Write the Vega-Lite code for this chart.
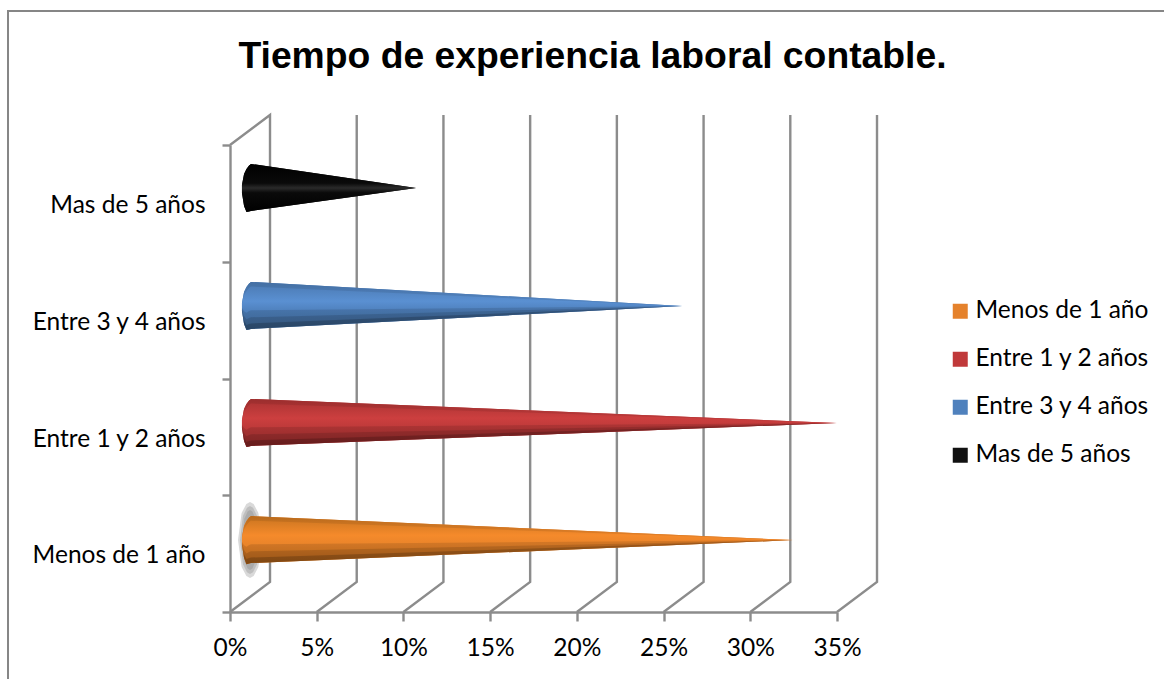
{
"$schema":"https://vega.github.io/schema/vega-lite/v6.json",
"autosize":{"type":"none"},
"padding":{"left":230,"top":145,"right":327,"bottom":67},
"width":607,"height":467,
"background":"white",
"config":{"view":{"stroke":null},"font":"Lato"},
"title":{"text":"Tiempo de experiencia laboral contable.","font":"Liberation Sans","fontSize":37.3,"fontWeight":"bold","color":"#000000","anchor":"middle","dx":59,"offset":-69},
"datasets":{
"conos":[
{"serie":"Menos de 1 año","x":0.69,"lo":0.573,"hi":0.642,"m1":0.581,"m2":0.590,"m3":0.601,"t1":0.635},
{"serie":"Menos de 1 año","x":0.81,"lo":0.462,"hi":0.736,"m1":0.495,"m2":0.531,"m3":0.572,"t1":0.709},
{"serie":"Menos de 1 año","x":0.95,"lo":0.410,"hi":0.779,"m1":0.454,"m2":0.502,"m3":0.558,"t1":0.742},
{"serie":"Menos de 1 año","x":1.10,"lo":0.415,"hi":0.809,"m1":0.462,"m2":0.514,"m3":0.573,"t1":0.770},
{"serie":"Menos de 1 año","x":1.21,"lo":0.419,"hi":0.822,"m1":0.467,"m2":0.520,"m3":0.580,"t1":0.782},
{"serie":"Menos de 1 año","x":32.46,"lo":0.616,"hi":0.616,"m1":0.616,"m2":0.616,"m3":0.616,"t1":0.616},
{"serie":"Entre 1 y 2 años","x":0.69,"lo":1.576,"hi":1.645,"m1":1.584,"m2":1.593,"m3":1.604,"t1":1.638},
{"serie":"Entre 1 y 2 años","x":0.81,"lo":1.465,"hi":1.739,"m1":1.498,"m2":1.534,"m3":1.575,"t1":1.712},
{"serie":"Entre 1 y 2 años","x":0.95,"lo":1.413,"hi":1.782,"m1":1.457,"m2":1.505,"m3":1.561,"t1":1.745},
{"serie":"Entre 1 y 2 años","x":1.10,"lo":1.418,"hi":1.812,"m1":1.465,"m2":1.517,"m3":1.576,"t1":1.773},
{"serie":"Entre 1 y 2 años","x":1.21,"lo":1.422,"hi":1.825,"m1":1.470,"m2":1.523,"m3":1.583,"t1":1.785},
{"serie":"Entre 1 y 2 años","x":34.99,"lo":1.619,"hi":1.619,"m1":1.619,"m2":1.619,"m3":1.619,"t1":1.619},
{"serie":"Entre 3 y 4 años","x":0.69,"lo":2.578,"hi":2.647,"m1":2.586,"m2":2.595,"m3":2.606,"t1":2.640},
{"serie":"Entre 3 y 4 años","x":0.81,"lo":2.467,"hi":2.741,"m1":2.500,"m2":2.536,"m3":2.577,"t1":2.714},
{"serie":"Entre 3 y 4 años","x":0.95,"lo":2.415,"hi":2.784,"m1":2.459,"m2":2.507,"m3":2.563,"t1":2.747},
{"serie":"Entre 3 y 4 años","x":1.10,"lo":2.420,"hi":2.814,"m1":2.467,"m2":2.519,"m3":2.578,"t1":2.775},
{"serie":"Entre 3 y 4 años","x":1.21,"lo":2.424,"hi":2.827,"m1":2.472,"m2":2.525,"m3":2.585,"t1":2.787},
{"serie":"Entre 3 y 4 años","x":26.08,"lo":2.621,"hi":2.621,"m1":2.621,"m2":2.621,"m3":2.621,"t1":2.621},
{"serie":"Mas de 5 años","x":0.69,"lo":3.589,"hi":3.658},{"serie":"Mas de 5 años","x":0.81,"lo":3.478,"hi":3.752},{"serie":"Mas de 5 años","x":0.95,"lo":3.426,"hi":3.795},{"serie":"Mas de 5 años","x":1.10,"lo":3.431,"hi":3.825},{"serie":"Mas de 5 años","x":1.21,"lo":3.435,"hi":3.838},{"serie":"Mas de 5 años","x":10.73,"lo":3.632,"hi":3.632}
],
"paredes":[
{"k":0,"x":0,"y":4},{"k":0,"x":2.307,"y":4.257},{"k":0,"x":2.307,"y":0.257},{"k":0,"x":0,"y":0},
{"k":5,"x":7.307,"y":4.257},{"k":5,"x":7.307,"y":0.257},{"k":5,"x":5,"y":0},
{"k":10,"x":12.307,"y":4.257},{"k":10,"x":12.307,"y":0.257},{"k":10,"x":10,"y":0},
{"k":15,"x":17.307,"y":4.257},{"k":15,"x":17.307,"y":0.257},{"k":15,"x":15,"y":0},
{"k":20,"x":22.307,"y":4.257},{"k":20,"x":22.307,"y":0.257},{"k":20,"x":20,"y":0},
{"k":25,"x":27.307,"y":4.257},{"k":25,"x":27.307,"y":0.257},{"k":25,"x":25,"y":0},
{"k":30,"x":32.307,"y":4.257},{"k":30,"x":32.307,"y":0.257},{"k":30,"x":30,"y":0},
{"k":35,"x":37.307,"y":4.257},{"k":35,"x":37.307,"y":0.257},{"k":35,"x":35,"y":0}
],
"marco":[{"x":-12.8,"y":-0.6},{"x":-12.8,"y":5.148},{"x":53.9,"y":5.148}],
"sombra":[
{"e":"A","x":0.461,"lo":0.617,"hi":0.617},{"e":"A","x":0.669,"lo":0.386,"hi":0.848},{"e":"A","x":0.945,"lo":0.308,"hi":0.926},{"e":"A","x":1.153,"lo":0.292,"hi":0.942},{"e":"A","x":1.361,"lo":0.308,"hi":0.926},{"e":"A","x":1.637,"lo":0.386,"hi":0.848},{"e":"A","x":1.845,"lo":0.617,"hi":0.617},
{"e":"B","x":0.576,"lo":0.617,"hi":0.617},{"e":"B","x":0.749,"lo":0.410,"hi":0.824},{"e":"B","x":0.980,"lo":0.341,"hi":0.893},{"e":"B","x":1.153,"lo":0.326,"hi":0.908},{"e":"B","x":1.326,"lo":0.341,"hi":0.893},{"e":"B","x":1.557,"lo":0.410,"hi":0.824},{"e":"B","x":1.730,"lo":0.617,"hi":0.617},
{"e":"C","x":0.692,"lo":0.617,"hi":0.617},{"e":"C","x":0.830,"lo":0.435,"hi":0.799},{"e":"C","x":1.015,"lo":0.373,"hi":0.861},{"e":"C","x":1.153,"lo":0.360,"hi":0.874},{"e":"C","x":1.291,"lo":0.373,"hi":0.861},{"e":"C","x":1.476,"lo":0.435,"hi":0.799},{"e":"C","x":1.614,"lo":0.617,"hi":0.617}
]
},
"layer":[
{"data":{"name":"marco"},"mark":{"type":"line","color":"#868686","strokeWidth":2,"clip":false},
 "encoding":{"x":{"field":"x","type":"quantitative","sort":null,"scale":{"domain":[0,35],"nice":false,"zero":false},
   "axis":{"values":[0,5,10,15,20,25,30,35],"labelExpr":"datum.value+'%'","labelFlush":false,"labelOverlap":false,"title":null,"grid":false,"domainColor":"#8c8c8c","domainWidth":2.4,"tickColor":"#8c8c8c","tickWidth":2.4,"tickSize":9,"labelFont":"Lato","labelFontSize":24.5,"labelColor":"#000000","labelPadding":15}},
  "y":{"field":"y","type":"quantitative","sort":null,"scale":{"domain":[0,4],"nice":false,"zero":false},
   "axis":{"values":[0,0.48,1,1.48,2,2.48,3,3.48,4],"labelExpr":"datum.value==0.48?'Menos de 1 año':datum.value==1.48?'Entre 1 y 2 años':datum.value==2.48?'Entre 3 y 4 años':datum.value==3.48?'Mas de 5 años':''","labelFlush":false,"labelOverlap":false,"labelLimit":300,"title":null,"grid":false,"domainColor":"#8c8c8c","domainWidth":2.4,"tickColor":"#8c8c8c","tickWidth":2.4,"tickSize":8,"tickOpacity":{"condition":{"test":"datum.value%1==0","value":1},"value":0},"labelFont":"Lato","labelFontSize":24.5,"labelColor":"#000000","labelPadding":17}},
  "order":{"value":null}}},
{"data":{"name":"paredes"},"mark":{"type":"line","color":"#8c8c8c","strokeWidth":2.4},
 "encoding":{"x":{"field":"x","type":"quantitative"},"y":{"field":"y","type":"quantitative"},"detail":{"field":"k"},"order":{"value":null}}},
{"data":{"name":"sombra"},"mark":{"type":"area","orient":"vertical","color":"#808080","opacity":0.3},
 "encoding":{"x":{"field":"x","type":"quantitative"},"y":{"field":"lo","type":"quantitative"},"y2":{"field":"hi"},"detail":{"field":"e"}}},
{"data":{"name":"conos"},"mark":{"type":"area","orient":"vertical"},
 "encoding":{"x":{"field":"x","type":"quantitative"},"y":{"field":"lo","type":"quantitative"},"y2":{"field":"hi"},
  "color":{"field":"serie","type":"nominal","scale":{"domain":["Menos de 1 año","Entre 1 y 2 años","Entre 3 y 4 años","Mas de 5 años"],"range":["#E5822C","#C0393A","#4F81BD","#111111"]},
   "legend":{"title":null,"orient":"none","legendX":718,"legendY":154,"symbolType":"square","symbolSize":225,"symbolStrokeWidth":0,"symbolOpacity":1,"labelFont":"Lato","labelFontSize":24.5,"labelColor":"#000000","labelLimit":300,"rowPadding":23,"labelOffset":3}}}},
{"data":{"name":"conos"},"transform":[{"filter":"datum.serie=='Menos de 1 año'"}],"mark":{"type":"area","orient":"vertical","color":{"gradient":"linear","x1":0,"y1":0,"x2":0,"y2":1,"stops":[{"offset":0,"color":"#C8741F"},{"offset":0.4,"color":"#F58A2B"},{"offset":0.6,"color":"#E9842A"},{"offset":1,"color":"#C8701E"}]}},
 "encoding":{"x":{"field":"x","type":"quantitative"},"y":{"field":"lo","type":"quantitative"},"y2":{"field":"hi"}}},
{"data":{"name":"conos"},"transform":[{"filter":"datum.serie=='Entre 1 y 2 años'"}],"mark":{"type":"area","orient":"vertical","color":{"gradient":"linear","x1":0,"y1":0,"x2":0,"y2":1,"stops":[{"offset":0,"color":"#A83232"},{"offset":0.4,"color":"#CC3F3F"},{"offset":0.6,"color":"#BE3A3A"},{"offset":1,"color":"#A02E2E"}]}},
 "encoding":{"x":{"field":"x","type":"quantitative"},"y":{"field":"lo","type":"quantitative"},"y2":{"field":"hi"}}},
{"data":{"name":"conos"},"transform":[{"filter":"datum.serie=='Entre 3 y 4 años'"}],"mark":{"type":"area","orient":"vertical","color":{"gradient":"linear","x1":0,"y1":0,"x2":0,"y2":1,"stops":[{"offset":0,"color":"#4A78B0"},{"offset":0.4,"color":"#5A90D2"},{"offset":0.6,"color":"#4F81BD"},{"offset":1,"color":"#426E9F"}]}},
 "encoding":{"x":{"field":"x","type":"quantitative"},"y":{"field":"lo","type":"quantitative"},"y2":{"field":"hi"}}},
{"data":{"name":"conos"},"transform":[{"filter":"datum.serie=='Mas de 5 años'"}],"mark":{"type":"area","orient":"vertical","color":{"gradient":"linear","x1":0,"y1":0,"x2":0,"y2":1,"stops":[{"offset":0,"color":"#000000"},{"offset":0.4,"color":"#0a0a0a"},{"offset":0.5,"color":"#2a2a2a"},{"offset":0.6,"color":"#0a0a0a"},{"offset":1,"color":"#000000"}]}},
 "encoding":{"x":{"field":"x","type":"quantitative"},"y":{"field":"lo","type":"quantitative"},"y2":{"field":"hi"}}},
{"data":{"name":"conos"},"transform":[{"filter":"datum.serie!='Mas de 5 años'"}],"mark":{"type":"area","orient":"vertical","color":"#000000","opacity":0.11},
 "encoding":{"x":{"field":"x","type":"quantitative"},"y":{"field":"lo","type":"quantitative"},"y2":{"field":"m3"},"detail":{"field":"serie"}}},
{"data":{"name":"conos"},"transform":[{"filter":"datum.serie!='Mas de 5 años'"}],"mark":{"type":"area","orient":"vertical","color":"#000000","opacity":0.12},
 "encoding":{"x":{"field":"x","type":"quantitative"},"y":{"field":"lo","type":"quantitative"},"y2":{"field":"m2"},"detail":{"field":"serie"}}},
{"data":{"name":"conos"},"transform":[{"filter":"datum.serie!='Mas de 5 años'"}],"mark":{"type":"area","orient":"vertical","color":"#000000","opacity":0.18},
 "encoding":{"x":{"field":"x","type":"quantitative"},"y":{"field":"lo","type":"quantitative"},"y2":{"field":"m1"},"detail":{"field":"serie"}}},
{"data":{"name":"conos"},"transform":[{"filter":"datum.serie!='Mas de 5 años'"}],"mark":{"type":"area","orient":"vertical","color":"#000000","opacity":0.08},
 "encoding":{"x":{"field":"x","type":"quantitative"},"y":{"field":"t1","type":"quantitative"},"y2":{"field":"hi"},"detail":{"field":"serie"}}}
]
}
